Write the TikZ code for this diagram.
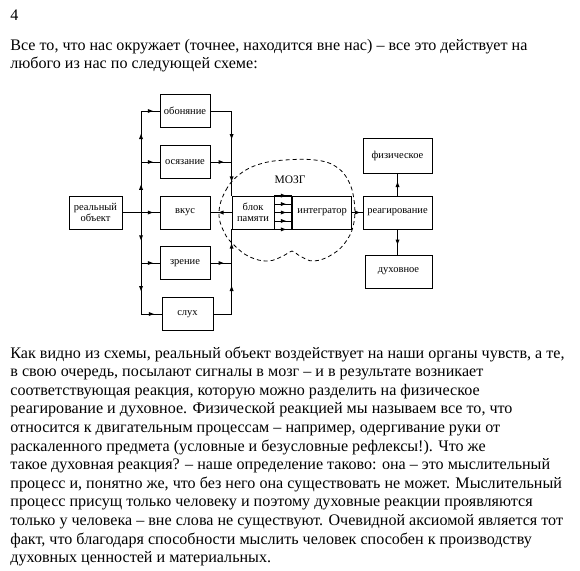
\documentclass[tikz,border=0pt]{standalone}
\usepackage{fontspec}
\setmainfont{Liberation Serif}
\usetikzlibrary{positioning,calc,decorations.markings}

\begin{document}
\begin{tikzpicture}[x=1pt, y=-1pt, line width=0.8pt,
    box/.style = {draw, minimum height=33pt, inner sep=1pt, align=center,
                  font=\fontsize{10.5}{11.5}\selectfont},
    midarrow/.style = {decoration={markings,
                       mark=at position 0.5 with {\fill (-2.5,-2) -- (2.5,0) -- (-2.5,2) -- cycle;}},
                       postaction={decorate}},
    backarrow/.style = {decoration={markings,
                       mark=at position 0.5 with {\fill (2.5,-2) -- (-2.5,0) -- (2.5,2) -- cycle;}},
                       postaction={decorate}},
    txt/.style = {anchor=base west, inner sep=0pt, font=\fontsize{16.1}{18}\selectfont}]
    \useasboundingbox (0,0) rectangle (580,570);

    % Text above the scheme
    \node[txt] (page) at (10,20) {4};
    \node[txt] (top1) at (10,50) {Все то, что нас окружает (точнее, находится вне нас) – все это действует на};
    \node[txt] (top2) at (10,68.6) {любого из нас по следующей схеме:};

    % Object and senses
    \node[box, minimum width=53pt] (obj) at (95.5,212.5) {реальный\\объект};
    \node[box, minimum width=50pt] (smell) at (185,111) {обоняние};
    \node[box, minimum width=50pt] (touch) at (185,162) {осязание};
    \node[box, minimum width=50pt] (taste) at (185,212.5) {вкус};
    \node[box, minimum width=50pt] (sight) at (185,263) {зрение};
    \node[box, minimum width=51pt] (hear) at (187.5,314) {слух};

    % Brain: memory, gate, integrator
    \node[box, minimum width=42pt] (mem) at (253,212.5) {блок\\памяти};
    \node[box, minimum width=17pt, right=0pt of mem] (gate) {};
    \node[box, minimum width=59pt, right=0pt of gate] (integ) {интегратор};
    \draw[dash pattern=on 4pt off 3pt] plot[smooth cycle, tension=0.7] coordinates {
        (219,212) (226,190) (240,174) (260,164) (285,160) (315,160) (335,166)
        (348,180) (354,200) (354,222) (347,240) (333,254) (314,261) (300,256)
        (292,251) (283,256) (268,261) (250,257) (235,246) (224,232)};
    \node[font=\fontsize{11.5}{12}\selectfont] (brain) at (290,180) {МОЗГ};

    % Reactions
    \node[box, minimum width=69pt] (react) at (397.5,212.5) {реагирование};
    \node[box, minimum width=69pt, minimum height=35pt] (phys) at (397.5,155.5) {физическое};
    \node[box, minimum width=67pt] (spirit) at (398.5,271.5) {духовное};

    % Left bus
    \coordinate (lbus) at (141,212.5);
    \draw (obj.east) -- (lbus);
    \draw[midarrow] (lbus) -- (taste.west);
    \draw[midarrow] (lbus) -- (lbus |- touch.west) coordinate (l2);
    \draw[midarrow] (l2) -- (lbus |- smell.west) coordinate (l1);
    \draw[midarrow] (lbus) -- (lbus |- sight.west) coordinate (l4);
    \draw[midarrow] (l4) -- (lbus |- hear.west) coordinate (l5);
    \draw[midarrow] (l1) -- (smell.west);
    \draw[midarrow] (l2) -- (touch.west);
    \draw[midarrow] (l4) -- (sight.west);
    \draw[midarrow] (l5) -- (hear.west);

    % Right bus
    \draw (smell.east) -- (smell.east -| mem.west) coordinate (r1);
    \draw[midarrow] (r1) -- (r1 |- touch.east) coordinate (r2);
    \draw[midarrow] (r2) -- (mem.north west);
    \draw (hear.east) -- (hear.east -| mem.west) coordinate (r5);
    \draw[midarrow] (r5) -- (r5 |- sight.east) coordinate (r4);
    \draw[midarrow] (r4) -- (mem.south west);
    \draw[midarrow] (touch.east) -- (r2);
    \draw[backarrow] (taste.east) -- (mem.west);
    \draw[midarrow] (sight.east) -- (r4);

    % Arrows through the gate
    \foreach \f in {0,0.25,0.5,0.75,1}
        \draw[midarrow] ($(gate.north west)!\f!(gate.south west)$) -- ($(gate.north east)!\f!(gate.south east)$);

    % Output of the brain
    \draw[midarrow] (integ.east) -- (react.west);
    \draw[midarrow] (react.north) -- (react.north |- phys.south);
    \draw[midarrow] (react.south) -- (react.south |- spirit.north);

    % Text below the scheme
    \node[txt] (body1) at (10,358) {Как видно из схемы, реальный объект воздействует на наши органы чувств, а те,};
    \node[txt] (body2) at (10,376.6) {в свою очередь, посылают сигналы в мозг – и в результате возникает};
    \node[txt] (body3) at (10,395.2) {соответствующая реакция, которую можно разделить на физическое};
    \node[txt] (body4) at (10,413.8) {реагирование и духовное. Физической реакцией мы называем все то, что};
    \node[txt] (body5) at (10,432.4) {относится к двигательным процессам – например, одергивание руки от};
    \node[txt] (body6) at (10,451) {раскаленного предмета (условные и безусловные рефлексы!). Что же};
    \node[txt] (body7) at (10,469.6) {такое духовная реакция? – наше определение таково: она – это мыслительный};
    \node[txt] (body8) at (10,488.2) {процесс и, понятно же, что без него она существовать не может. Мыслительный};
    \node[txt] (body9) at (10,506.8) {процесс присущ только человеку и поэтому духовные реакции проявляются};
    \node[txt] (body10) at (10,525.4) {только у человека – вне слова не существуют. Очевидной аксиомой является тот};
    \node[txt] (body11) at (10,544) {факт, что благодаря способности мыслить человек способен к производству};
    \node[txt] (body12) at (10,562.6) {духовных ценностей и материальных.};
\end{tikzpicture}
\end{document}
